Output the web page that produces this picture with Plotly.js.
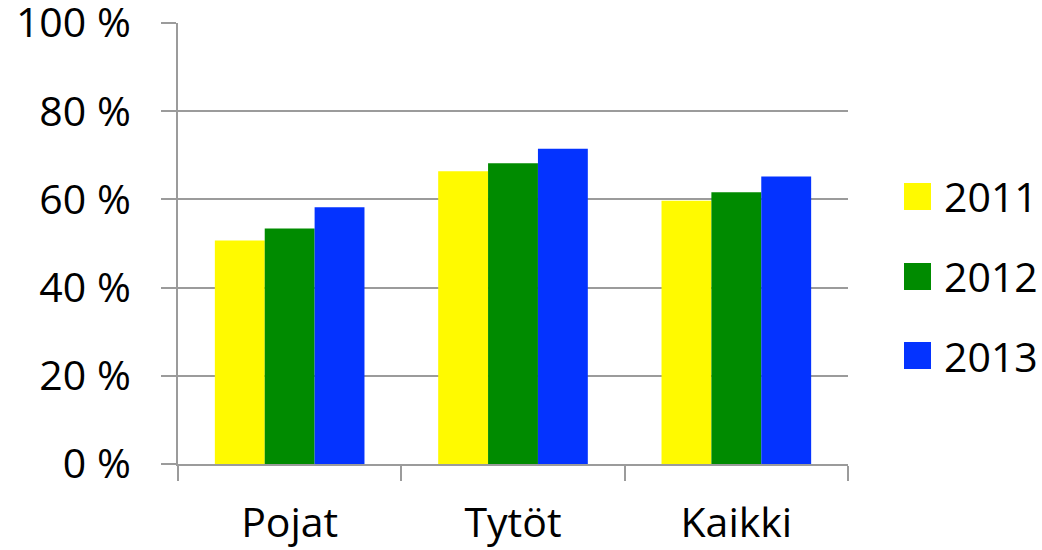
<!DOCTYPE html>
<html>
<head>
<meta charset="utf-8">
<script src="https://cdn.plot.ly/plotly-3.0.1.min.js"></script>
<style>html,body{margin:0;padding:0;background:#fff;}#chart{width:1042px;height:550px;}</style>
</head>
<body>
<div id="chart"></div>
<script>
const categories = ["Pojat", "Tytöt", "Kaikki"];
const seriesNames = ["2011", "2012", "2013"];
const values2011 = [50.7, 66.4, 59.7];
const values2012 = [53.4, 68.2, 61.6];
const values2013 = [58.2, 71.5, 65.2];
const seriesValues = [values2011, values2012, values2013];
const colors = ["#FFFA00", "#008B00", "#0433FF"];
const yTickVals = [0, 20, 40, 60, 80, 100];
const yTickText = ["0 %", "20 %", "40 %", "60 %", "80 %", "100 %"];

const font = {family: "Open Sans, Noto Sans, sans-serif", size: 41, color: "#000"};
const axisColor = "#9b9b9b";

const traces = seriesNames.map((name, i) => ({
  type: "bar",
  name: name,
  x: categories,
  y: seriesValues[i],
  marker: {color: colors[i], line: {width: 0}},
  showlegend: false,
  hoverinfo: "skip"
}));

// custom legend (large square swatches) built from series arrays
const legendY = [0.6066, 0.4252, 0.2460];
const half = 0.0306;
const shapes = [];
const annotations = [];
seriesNames.forEach((name, i) => {
  shapes.push({type: "rect", xref: "paper", yref: "paper",
    x0: 1.0836, x1: 1.1239, y0: legendY[i] - half, y1: legendY[i] + half,
    fillcolor: colors[i], line: {width: 0}});
  annotations.push({xref: "paper", yref: "paper", x: 1.140, y: legendY[i],
    xanchor: "left", yanchor: "middle", text: name, showarrow: false, font: font});
});

const layout = {
  width: 1042, height: 550,
  margin: {l: 178, r: 194, t: 23, b: 86, pad: 0},
  paper_bgcolor: "#fff", plot_bgcolor: "#fff",
  font: font,
  barmode: "group", bargap: 0.33, bargroupgap: 0,
  showlegend: false,
  xaxis: {
    type: "category", showline: true, linecolor: axisColor, linewidth: 2,
    showgrid: false, ticks: "outside", tickson: "boundaries", ticklen: 15,
    tickwidth: 2, tickcolor: axisColor, ticklabelstandoff: 22,
    tickfont: font, zeroline: false, fixedrange: true, automargin: false
  },
  yaxis: {
    range: [0, 100], tickvals: yTickVals, ticktext: yTickText,
    showline: true, linecolor: axisColor, linewidth: 2,
    showgrid: true, gridcolor: axisColor, gridwidth: 2,
    ticks: "outside", ticklen: 15, tickwidth: 2, tickcolor: axisColor,
    ticklabelstandoff: 22, ticklabeloverflow: "allow", tickfont: font,
    zeroline: false, fixedrange: true, automargin: false
  },
  shapes: shapes,
  annotations: annotations
};

Plotly.newPlot("chart", traces, layout, {staticPlot: true, displayModeBar: false});
</script>
</body>
</html>
